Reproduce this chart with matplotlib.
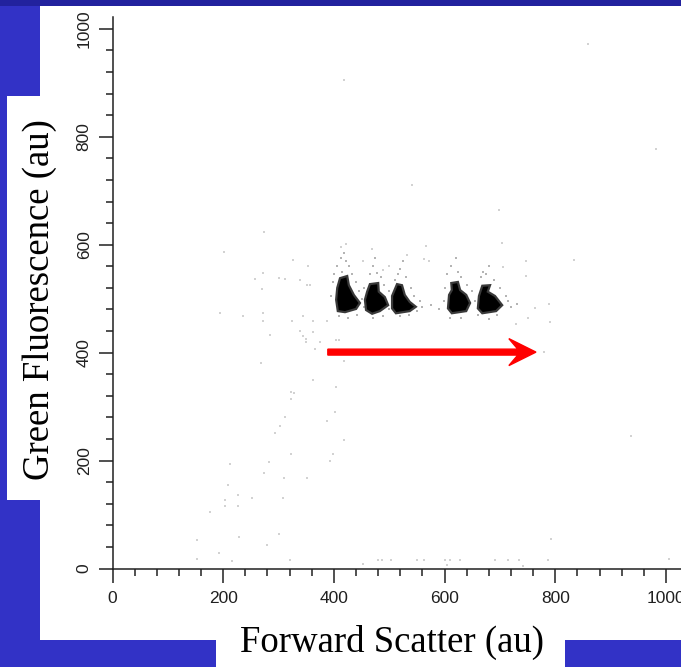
import matplotlib
matplotlib.use('Agg')
import matplotlib.pyplot as plt
from matplotlib.patches import Rectangle
from matplotlib.ticker import MultipleLocator

# dense bead populations, outlines (forward scatter, green fluorescence)
pop1_x = [411, 424, 427, 436, 447, 440, 420, 407, 404, 406]
pop1_y = [538, 542, 525, 507, 492, 481, 475, 477, 498, 520]
pop2_x = [465, 480, 481, 492, 498, 483, 469, 458, 456, 460]
pop2_y = [527, 529, 513, 503, 488, 477, 472, 479, 498, 513]
pop3_x = [514, 523, 528, 537, 548, 537, 512, 505, 505]
pop3_y = [527, 525, 507, 494, 485, 477, 473, 482, 505]
pop4_x = [612, 624, 628, 639, 646, 639, 613, 606, 608, 613]
pop4_y = [529, 531, 516, 507, 492, 477, 473, 482, 507, 516]
pop5_x = [668, 682, 678, 691, 704, 693, 668, 660, 662]
pop5_y = [524, 525, 513, 505, 488, 477, 473, 482, 505]
populations = [(pop1_x, pop1_y), (pop2_x, pop2_y), (pop3_x, pop3_y),
               (pop4_x, pop4_y), (pop5_x, pop5_y)]

# sparse events around the populations
halo_x = [405, 412, 418, 422, 415, 428, 400, 432, 440, 445, 398, 395, 450, 455, 410, 425, 442,
          470, 475, 478, 485, 465, 490, 500, 505, 455, 470, 488, 500,
          520, 525, 515, 530, 510, 540, 545, 555, 560, 520, 535, 550, 575,
          612, 620, 625, 605, 630, 640, 600, 650, 655, 598, 610, 630, 590,
          670, 675, 665, 680, 690, 700, 710, 715, 720, 730, 695, 680, 660]
halo_y = [560, 575, 585, 570, 550, 560, 545, 545, 530, 515, 530, 505, 500, 485, 468, 465, 470,
          560, 575, 548, 540, 545, 525, 515, 500, 520, 465, 468, 480,
          555, 570, 545, 540, 535, 520, 505, 495, 485, 468, 470, 478, 488,
          560, 575, 550, 545, 540, 525, 520, 515, 495, 495, 465, 465, 480,
          550, 545, 540, 560, 535, 520, 505, 495, 485, 490, 470, 462, 470]

# scattered single events over the whole plot
event_x = [418, 541, 274, 201, 326, 354, 271, 257, 300, 311, 339, 270, 351, 357, 413, 421,
           469, 566, 532, 563, 571, 453, 489, 500, 859, 981, 698, 704, 834, 747, 747, 706,
           763, 750, 729, 789, 790, 780, 936, 792,
           195, 235, 271, 271, 285, 325, 345, 339, 345, 349, 349, 362, 362, 375, 388, 365,
           403, 410, 268, 362, 322, 328, 323, 404, 419, 311, 303, 293, 402, 388, 323, 283,
           274, 309, 419, 399, 393, 351, 212, 209, 226, 226, 204, 204, 252, 308, 176, 153,
           229, 300, 192, 280,
           215, 153, 321, 452, 480, 487, 503, 550, 562, 601, 609, 628, 691, 714, 734, 787,
           1006, 604, 742]
event_y = [905, 711, 624, 586, 572, 560, 548, 537, 539, 537, 535, 518, 526, 526, 595, 601,
           592, 598, 581, 574, 569, 569, 554, 560, 972, 778, 665, 604, 572, 569, 542, 559,
           482, 465, 453, 490, 457, 401, 246, 55,
           473, 468, 473, 458, 433, 458, 468, 441, 431, 425, 420, 438, 459, 420, 459, 406,
           424, 424, 380, 349, 328, 325, 314, 336, 385, 281, 264, 252, 290, 273, 212, 197,
           177, 168, 238, 212, 200, 168, 194, 154, 136, 116, 127, 116, 131, 131, 105, 53,
           58, 64, 29, 44,
           14, 18, 16, 8, 16, 16, 16, 16, 16, 16, 16, 16, 16, 16, 16, 16,
           18, 6, 5]

# red arrow: start, end and level on the data axes
arrow_x0, arrow_x1, arrow_y = 389, 765, 401

xticks = [0, 200, 400, 600, 800, 1000]
yticks = [0, 200, 400, 600, 800, 1000]

W, H = 681, 667
fig = plt.figure(figsize=(W / 100, H / 100), dpi=100, facecolor='#3232c6')


def px_box(left, top, right, bottom, color):
    r = Rectangle((left / W, 1 - bottom / H), (right - left) / W, (bottom - top) / H,
                  transform=fig.transFigure, facecolor=color, edgecolor='none', zorder=-5)
    fig.add_artist(r)


px_box(0, 0, W, 6, '#22229e')
px_box(40, 6, W, 640, 'white')
px_box(7, 96, 40, 500, 'white')
px_box(216, 640, 565, H, 'white')

ax = fig.add_axes([112.5 / W, (H - 568.5) / H, (W - 112.5) / W, (568.5 - 17) / H])
ax.set_facecolor('none')
ax.set_xlim(0, 1027)
ax.set_ylim(0, 1022)

ax.scatter(event_x, event_y, s=3, marker='s', color='#d2d2d2', linewidths=0, zorder=2)
ax.scatter(halo_x, halo_y, s=3, marker='s', color='#b4b4b4', linewidths=0, zorder=2)
for px, py in populations:
    ax.fill(px, py, facecolor='black', edgecolor='#3a3a3a', linewidth=1.6, zorder=3)

ax.arrow(arrow_x0, arrow_y, arrow_x1 - arrow_x0, 0, width=11, head_width=50, head_length=49,
         overhang=0.33, length_includes_head=True, color='#ff0000', zorder=4)

for s in ['top', 'right']:
    ax.spines[s].set_visible(False)
for s in ['left', 'bottom']:
    ax.spines[s].set_linewidth(1.1)
    ax.spines[s].set_color('#202020')

ax.set_xticks(xticks)
ax.set_yticks(yticks)
ax.xaxis.set_minor_locator(MultipleLocator(40))
ax.yaxis.set_minor_locator(MultipleLocator(40))
ax.tick_params(which='major', length=10, width=1.1, color='#202020', labelsize=12.5,
               labelcolor='#202020')
ax.tick_params(which='minor', length=4.7, width=1.1, color='#202020')
ax.tick_params(axis='x', which='major', pad=6)
ax.tick_params(axis='y', which='major', pad=5, labelrotation=90)
for lab in ax.get_xticklabels() + ax.get_yticklabels():
    lab.set_family('Liberation Sans')
for lab in ax.get_yticklabels():
    lab.set_va('center')

fig.text(391.5 / W, 1 - 642 / H, 'Forward Scatter (au)', ha='center', va='center',
         family='Liberation Serif', fontsize=26.5, color='black', zorder=10)
fig.text(40 / W, 1 - 300 / H, 'Green Fluorescence (au)', ha='center', va='center',
         rotation=90, family='Liberation Serif', fontsize=26.5, color='black', zorder=10)

fig.savefig('out.png', dpi=100, facecolor=fig.get_facecolor())
